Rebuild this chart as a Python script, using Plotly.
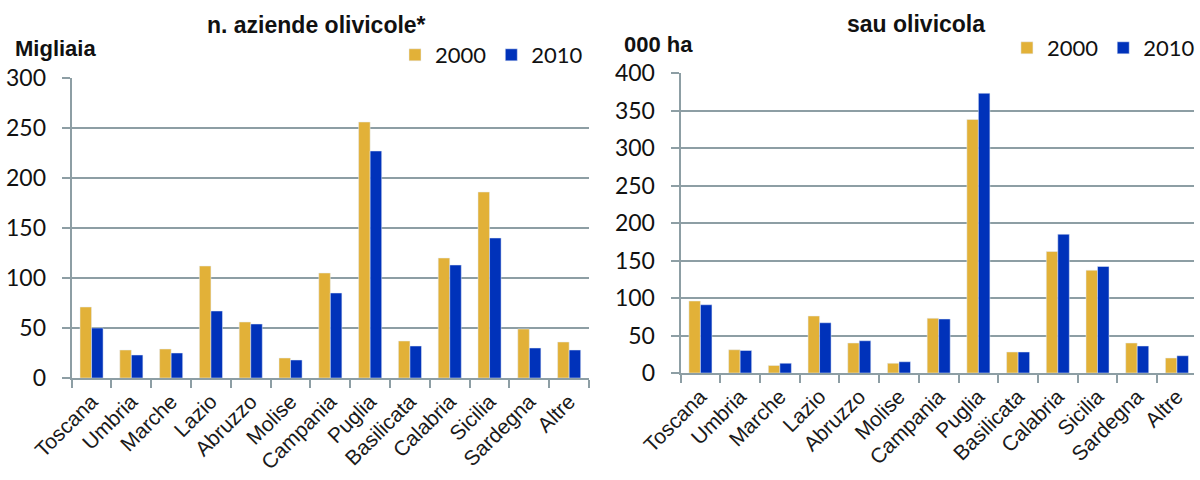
import plotly.graph_objects as go

regions = ["Toscana", "Umbria", "Marche", "Lazio", "Abruzzo", "Molise", "Campania",
           "Puglia", "Basilicata", "Calabria", "Sicilia", "Sardegna", "Altre"]
aziende_2000 = [71, 28, 29, 112, 56, 20, 105, 256, 37, 120, 186, 49, 36]
aziende_2010 = [50, 23, 25, 67, 54, 18, 85, 227, 32, 113, 140, 30, 28]
sau_2000 = [96, 31, 10, 76, 40, 13, 73, 338, 28, 162, 137, 40, 20]
sau_2010 = [91, 30, 13, 67, 43, 15, 72, 373, 28, 185, 142, 36, 23]
left_ticks = [0, 50, 100, 150, 200, 250, 300]
right_ticks = [0, 50, 100, 150, 200, 250, 300, 350, 400]

GOLD = "#E2B138"
BLUE = "#0032BA"
GRID = "#8D9EA4"
W, H = 1200, 480

fig = go.Figure()
fig.add_bar(x=regions, y=aziende_2000, name="2000", marker_color=GOLD,
            xaxis="x", yaxis="y", legend="legend")
fig.add_bar(x=regions, y=aziende_2010, name="2010", marker_color=BLUE,
            xaxis="x", yaxis="y", legend="legend")
fig.add_bar(x=regions, y=sau_2000, name="2000", marker_color=GOLD,
            xaxis="x2", yaxis="y2", legend="legend2")
fig.add_bar(x=regions, y=sau_2010, name="2010", marker_color=BLUE,
            xaxis="x2", yaxis="y2", legend="legend2")

xcommon = dict(type="category", showline=True, linecolor=GRID, linewidth=2,
               ticks="outside", tickson="boundaries", ticklen=8, tickcolor=GRID,
               tickwidth=2, tickangle=-45, showgrid=False, automargin=False,
               ticklabelstandoff=1,
               tickfont=dict(family="Liberation Sans, Arial", size=21, color="#1a1a1a"))
ycommon = dict(showline=True, linecolor=GRID, linewidth=2, showgrid=True,
               gridcolor=GRID, gridwidth=2, ticks="outside", ticklen=8,
               tickcolor=GRID, tickwidth=2, zeroline=False, automargin=False,
               ticklabelstandoff=11,
               tickfont=dict(family="Lato, Open Sans", size=23, color="#111"))
legfont = dict(family="Lato, Open Sans", size=22, color="#111")

fig.update_layout(
    width=W, height=H,
    margin=dict(l=0, r=0, t=0, b=0),
    paper_bgcolor="white", plot_bgcolor="white",
    barmode="group", bargap=0.42, bargroupgap=0.0,
    showlegend=True,
    xaxis=dict(domain=[72 / W, 592 / W], anchor="y", **xcommon),
    yaxis=dict(domain=[(H - 378) / H, (H - 78) / H], anchor="x",
               range=[0, 300], tickvals=left_ticks, **ycommon),
    xaxis2=dict(domain=[684 / W, 1.0], anchor="y2", range=[-0.5, 12.43], **xcommon),
    yaxis2=dict(domain=[(H - 373) / H, (H - 73) / H], anchor="x2",
                range=[0, 400], tickvals=right_ticks, **ycommon),
    legend=dict(orientation="h", x=397 / W, y=1 - 55 / H, xanchor="left", yanchor="middle",
                font=legfont, bgcolor="rgba(0,0,0,0)", itemwidth=30, tracegroupgap=0),
    legend2=dict(orientation="h", x=1012 / W, y=1 - 48 / H, xanchor="left", yanchor="middle",
                 font=legfont, bgcolor="rgba(0,0,0,0)", itemwidth=30, tracegroupgap=0),
    annotations=[
        dict(text="<b>n. aziende olivicole*</b>", x=318 / W, y=1 - 25 / H, xref="paper",
             yref="paper", showarrow=False, xanchor="center", yanchor="middle",
             font=dict(family="Liberation Sans, Arial", size=23, color="#111")),
        dict(text="<b>Migliaia</b>", x=13 / W, y=1 - 49 / H, xref="paper", yref="paper",
             showarrow=False, xanchor="left", yanchor="middle",
             font=dict(family="Liberation Sans, Arial", size=22, color="#111")),
        dict(text="<b>sau olivicola</b>", x=921 / W, y=1 - 24 / H, xref="paper",
             yref="paper", showarrow=False, xanchor="center", yanchor="middle",
             font=dict(family="Liberation Sans, Arial", size=23, color="#111")),
        dict(text="<b>000 ha</b>", x=625 / W, y=1 - 44 / H, xref="paper", yref="paper",
             showarrow=False, xanchor="left", yanchor="middle",
             font=dict(family="Liberation Sans, Arial", size=22, color="#111")),
    ],
)

fig.write_html("out.html")
